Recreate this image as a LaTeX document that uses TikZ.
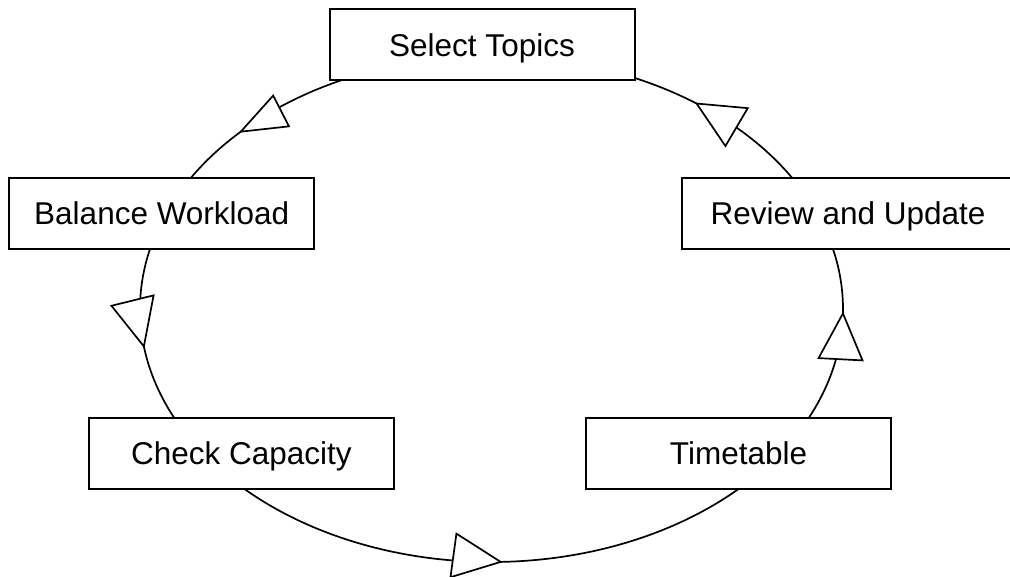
\documentclass[tikz,border=0pt]{standalone}
\usepackage{fontspec}
\setmainfont{Liberation Sans}
\usetikzlibrary{backgrounds}
\begin{document}
\begin{tikzpicture}[x=1pt,y=1pt,
  box/.style={draw, line width=2pt, fill=white, inner sep=0pt,
    minimum width=305pt, minimum height=71pt,
    text height=22.6pt, text depth=0pt,
    font=\fontsize{31.5}{38}\selectfont},
  link/.style={line width=1.7pt},
  pics/head/.style n args={2}{code={
    \draw[line width=1.7pt, fill=white, line join=miter]
      (0,0) -- (-#1,#2) -- (-#1,-#2) -- cycle;}}]
\useasboundingbox (0,0) rectangle (1010,-577);

% process steps
\node[box] (st) at (482,-45) {Select Topics};
\node[box] (bw) at (161.75,-213.5) {Balance Workload};
\node[box] (cc) at (241.5,-453.5) {Check Capacity};
\node[box] (tt) at (738.5,-453.5) {Timetable};
\node[box, minimum width=332pt] (ru) at (848,-213.5) {Review and Update};

% the cycle runs along one ellipse
\coordinate (O) at (491.5,-309);
\path (O) ++(100:351.5 and 253) coordinate (st-out);
\path (O) ++(158:351.5 and 253) coordinate (bw-out);
\path (O) ++(215:351.5 and 253) coordinate (cc-out);
\path (O) ++(325:351.5 and 253) coordinate (tt-out);
\path (O) ++(22:351.5 and 253)  coordinate (ru-out);

% arrow tips on the ellipse
\path (O) ++(135.5:351.5 and 253) coordinate (h1);
\path (O) ++(188.5:351.5 and 253) coordinate (h2);
\path (O) ++(271.5:351.5 and 253) coordinate (h3);
\path (O) ++(359:351.5 and 253)   coordinate (h4);
\path (O) ++(54.3:351.5 and 253)  coordinate (h5);

\begin{pgfonlayer}{background}
  \draw[link] (st-out) arc[start angle=100, end angle=158, x radius=351.5, y radius=253];
  \draw[link] (bw-out) arc[start angle=158, end angle=215, x radius=351.5, y radius=253];
  \draw[link] (cc-out) arc[start angle=215, end angle=325, x radius=351.5, y radius=253];
  \draw[link] (tt-out) arc[start angle=-35, end angle=22, x radius=351.5, y radius=253];
  \draw[link] (ru-out) arc[start angle=22, end angle=100, x radius=351.5, y radius=253];
\end{pgfonlayer}

% open triangular heads
\pic[rotate=207.2] at (h1) {head={45.3}{17.3}};
\pic[rotate=283.9] at (h2) {head={47.2}{21.7}};
\pic[rotate=-7.8]  at (h3) {head={47.7}{22}};
\pic[rotate=87]    at (h4) {head={45.9}{22}};
\pic[rotate=149.5] at (h5) {head={46.4}{22}};
\end{tikzpicture}
\end{document}
